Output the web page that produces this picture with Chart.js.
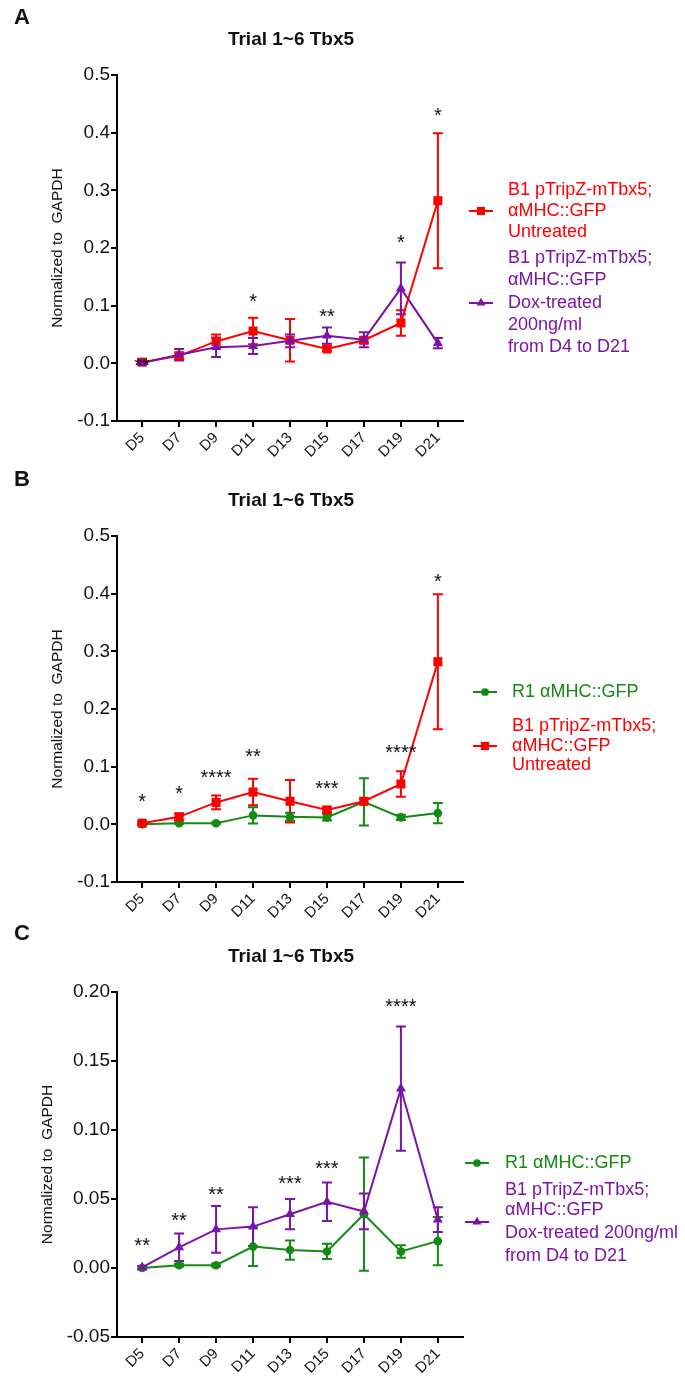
<!DOCTYPE html>
<html>
<head>
<meta charset="utf-8">
<script src="https://cdn.jsdelivr.net/npm/chart.js"></script>
<style>
  html, body { margin: 0; padding: 0; background: #fff; }
  canvas { display: block; }
</style>
</head>
<body>
<canvas id="painelA" width="685" height="460"></canvas>
<canvas id="painelB" width="685" height="460"></canvas>
<canvas id="painelC" width="685" height="456"></canvas>
<script>
// dias de coleta (eixo x)
const dias = ["D5", "D7", "D9", "D11", "D13", "D15", "D17", "D19", "D21"];

// B1 pTripZ-mTbx5 sem tratamento (media e erro)
const semTratMedia = [0.002, 0.013, 0.038, 0.056, 0.040, 0.025, 0.040, 0.070, 0.282];
const semTratErro  = [0.003, 0.006, 0.012, 0.023, 0.037, 0.004, 0.005, 0.022, 0.117];

// B1 pTripZ-mTbx5 tratado com Dox
const doxMedia = [0.0005, 0.015, 0.028, 0.030, 0.039, 0.048, 0.041, 0.130, 0.035];
const doxErro  = [0.001, 0.010, 0.017, 0.014, 0.011, 0.014, 0.013, 0.045, 0.009];

// R1 aMHC::GFP
const r1Media = [0.000, 0.002, 0.002, 0.0155, 0.013, 0.012, 0.039, 0.012, 0.0195];
const r1Erro  = [0.001, 0.001, 0.001, 0.014, 0.007, 0.0055, 0.041, 0.0045, 0.0175];

// ticks do eixo y
const ticksAB = [-0.1, 0.0, 0.1, 0.2, 0.3, 0.4, 0.5];
const ticksC  = [-0.05, 0.00, 0.05, 0.10, 0.15, 0.20];

// asteriscos de significancia (texto e altura no eixo y)
const estrelasA  = ["**", "", "", "*", "", "**", "", "*", "*"];
const estrelasAy = [0.002, null, null, 0.113, null, 0.088, null, 0.215, 0.436];
const estrelasB  = ["*", "*", "****", "**", "", "***", "", "****", "*"];
const estrelasBy = [0.045, 0.059, 0.087, 0.123, null, 0.069, null, 0.130, 0.427];
const estrelasC  = ["**", "**", "**", "", "***", "***", "", "****", ""];
const estrelasCy = [0.0186, 0.037, 0.056, null, 0.0636, 0.075, null, 0.192, null];

const FONTE = '"Liberation Sans", Arial, sans-serif';
const VERMELHO = "#FF0000";
const ROXO = "#7D13A6";
const VERDE = "#138A13";

const serieSemTrat = { cor: VERMELHO, estilo: "rect", raio: 6.4, media: semTratMedia, erro: semTratErro,
  legenda: ["B1 pTripZ-mTbx5;", "αMHC::GFP", "Untreated"] };
const serieDox = { cor: ROXO, estilo: "triangle", raio: 5.8, media: doxMedia, erro: doxErro,
  legenda: ["B1 pTripZ-mTbx5;", "αMHC::GFP", "Dox-treated", "200ng/ml", "from D4 to D21"] };
const serieDoxC = Object.assign({}, serieDox, {
  legenda: ["B1 pTripZ-mTbx5;", "αMHC::GFP", "Dox-treated 200ng/ml", "from D4 to D21"] });
const serieR1 = { cor: VERDE, estilo: "circle", raio: 4.3, media: r1Media, erro: r1Erro,
  legenda: ["R1 αMHC::GFP"] };

function desenhaMarcador(ctx, estilo, r, x, y) {
  ctx.beginPath();
  if (estilo === "rect") {
    const s = r * Math.SQRT1_2;
    ctx.rect(x - s, y - s, 2 * s, 2 * s);
  } else if (estilo === "triangle") {
    ctx.moveTo(x, y - r);
    ctx.lineTo(x + r * 0.866, y + r * 0.5);
    ctx.lineTo(x - r * 0.866, y + r * 0.5);
    ctx.closePath();
  } else {
    ctx.arc(x, y, r, 0, Math.PI * 2);
  }
  ctx.fill();
}

// plugin: letra do painel, titulo, rotulo y, barras de erro, asteriscos e legenda
function decoracao(cfg) {
  return {
    id: "decoracao" + cfg.letra,
    beforeDatasetsDraw(chart) {
      const ctx = chart.ctx;
      const y = chart.scales.y;
      ctx.save();
      cfg.series.forEach((s, k) => {
        const meta = chart.getDatasetMeta(k);
        ctx.strokeStyle = s.cor;
        ctx.lineWidth = 2;
        meta.data.forEach((pt, i) => {
          const topo = y.getPixelForValue(s.media[i] + s.erro[i]);
          const base = y.getPixelForValue(s.media[i] - s.erro[i]);
          ctx.beginPath();
          ctx.moveTo(pt.x, topo); ctx.lineTo(pt.x, base);
          ctx.moveTo(pt.x - 5, topo); ctx.lineTo(pt.x + 5, topo);
          ctx.moveTo(pt.x - 5, base); ctx.lineTo(pt.x + 5, base);
          ctx.stroke();
        });
      });
      ctx.restore();
    },
    afterDraw(chart) {
      const ctx = chart.ctx;
      const area = chart.chartArea;
      const xs = chart.scales.x, ys = chart.scales.y;
      ctx.save();
      ctx.fillStyle = "#111";
      ctx.textBaseline = "alphabetic";
      ctx.textAlign = "left";
      ctx.font = "bold 22px " + FONTE;
      ctx.fillText(cfg.letra, 14, cfg.letraY);

      ctx.textAlign = "center";
      ctx.font = "bold 19px " + FONTE;
      ctx.fillText("Trial 1~6 Tbx5", 291, cfg.tituloY);

      // rotulo do eixo y
      ctx.save();
      ctx.translate(cfg.rotuloX, (area.top + area.bottom) / 2);
      ctx.rotate(-Math.PI / 2);
      ctx.font = "15.5px " + FONTE;
      ctx.textBaseline = "middle";
      ctx.fillText("Normalized to  GAPDH", 0, 0);
      ctx.restore();

      // asteriscos
      ctx.font = "20px " + FONTE;
      cfg.estrelas.forEach((t, i) => {
        if (!t) return;
        ctx.fillText(t, xs.getPixelForValue(i), ys.getPixelForValue(cfg.estrelasY[i]) + 10);
      });

      // legenda
      ctx.font = "18px " + FONTE;
      ctx.textAlign = "left";
      ctx.textBaseline = "middle";
      cfg.legenda.forEach((ent) => {
        const s = ent.serie;
        ctx.strokeStyle = s.cor;
        ctx.fillStyle = s.cor;
        ctx.lineWidth = 2;
        ctx.beginPath();
        ctx.moveTo(cfg.legX0, ent.marcaY);
        ctx.lineTo(cfg.legX0 + 24, ent.marcaY);
        ctx.stroke();
        desenhaMarcador(ctx, s.estilo, s.raio * 0.9, cfg.legX0 + 12, ent.marcaY);
        s.legenda.forEach((linha, j) => ctx.fillText(linha, cfg.legTx, ent.linhasY[j]));
      });
      ctx.restore();
    }
  };
}

function montaPainel(id, cfg) {
  new Chart(document.getElementById(id), {
    type: "line",
    data: {
      datasets: cfg.series.map((s, k) => ({
        data: s.media.map((v, i) => ({ x: i, y: v })),
        borderColor: s.cor,
        backgroundColor: s.cor,
        borderWidth: 2,
        pointStyle: s.estilo,
        pointRadius: s.raio,
        pointBorderWidth: 0,
        tension: 0,
        clip: false,
        order: cfg.ordem[k],
      })),
    },
    options: {
      responsive: false,
      animation: false,
      events: [],
      layout: { padding: { top: cfg.topo, right: 222, bottom: 0, left: 0 } },
      plugins: {
        legend: { display: false },
        title: { display: false },
        tooltip: { enabled: false },
      },
      scales: {
        x: {
          type: "linear",
          min: -0.68,
          max: 8.68,
          afterBuildTicks: (s) => { s.ticks = dias.map((_, i) => ({ value: i })); },
          afterFit: (s) => { s.height = cfg.alturaX; },
          ticks: {
            callback: (v) => dias[v],
            minRotation: 45,
            maxRotation: 45,
            autoSkip: false,
            padding: 2,
            color: "#111",
            font: { family: FONTE, size: 15 },
          },
          grid: { drawOnChartArea: false, color: "#000", lineWidth: 2, tickLength: 6 },
          border: { color: "#000", width: 2 },
        },
        y: {
          min: cfg.ticks[0],
          max: cfg.ticks[cfg.ticks.length - 1],
          afterBuildTicks: (s) => { s.ticks = cfg.ticks.map((v) => ({ value: v })); },
          afterFit: (s) => { s.width = 117; },
          ticks: {
            callback: (v) => v.toFixed(cfg.casas),
            padding: 1,
            color: "#111",
            font: { family: FONTE, size: 19 },
          },
          grid: { drawOnChartArea: false, color: "#000", lineWidth: 2, tickLength: 6 },
          border: { color: "#000", width: 2 },
        },
      },
    },
    plugins: [decoracao(cfg)],
  });
}

// Painel A
montaPainel("painelA", {
  letra: "A", letraY: 24, tituloY: 45, rotuloX: 58,
  topo: 75, alturaX: 39, ticks: ticksAB, casas: 1,
  series: [serieSemTrat, serieDox], ordem: [2, 1],
  estrelas: estrelasA, estrelasY: estrelasAy,
  legX0: 469, legTx: 508,
  legenda: [
    { serie: serieSemTrat, marcaY: 211, linhasY: [190, 211, 232] },
    { serie: serieDox, marcaY: 303, linhasY: [258, 280, 303, 325, 347] },
  ],
});

// Painel B
montaPainel("painelB", {
  letra: "B", letraY: 26, tituloY: 46, rotuloX: 58,
  topo: 76, alturaX: 38, ticks: ticksAB, casas: 1,
  series: [serieR1, serieSemTrat], ordem: [2, 1],
  estrelas: estrelasB, estrelasY: estrelasBy,
  legX0: 473, legTx: 512,
  legenda: [
    { serie: serieR1, marcaY: 232, linhasY: [232] },
    { serie: serieSemTrat, marcaY: 286, linhasY: [266, 286, 305] },
  ],
});

// Painel C
montaPainel("painelC", {
  letra: "C", letraY: 20, tituloY: 42, rotuloX: 48,
  topo: 72, alturaX: 39, ticks: ticksC, casas: 2,
  series: [serieR1, serieDoxC], ordem: [2, 1],
  estrelas: estrelasC, estrelasY: estrelasCy,
  legX0: 465, legTx: 505,
  legenda: [
    { serie: serieR1, marcaY: 243, linhasY: [243] },
    { serie: serieDoxC, marcaY: 302, linhasY: [270, 290, 313, 336] },
  ],
});
</script>
</body>
</html>
